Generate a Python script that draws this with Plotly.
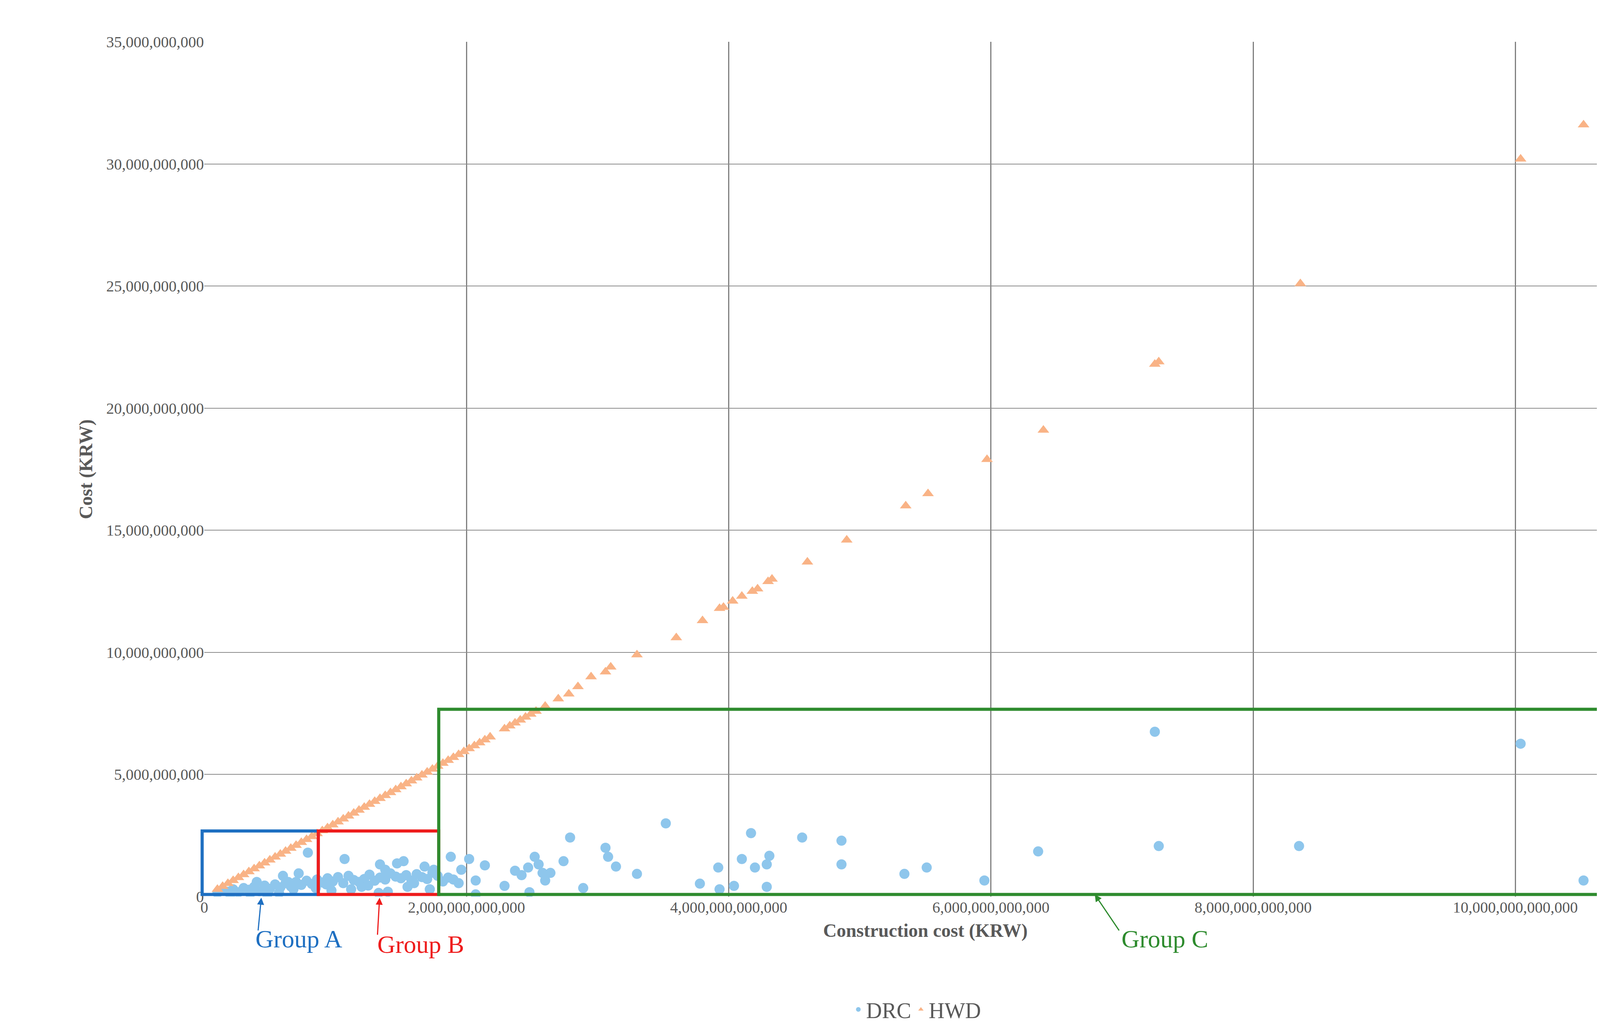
import plotly.graph_objects as go

# values in trillions (x) and billions (y) KRW
hwd_x = [0.10,0.14,0.18,0.22,0.26,0.30,0.34,0.38,0.42,0.46,0.50,0.54,0.58,0.62,0.66,0.70,0.74,0.78,0.82,0.86,
         0.90,0.94,0.98,1.02,1.06,1.10,1.14,1.18,1.22,1.26,1.30,1.34,1.38,1.42,1.46,1.50,1.54,1.58,1.62,1.66,
         1.70,1.74,1.78,1.82,1.86,1.90,1.94,1.98,2.02,2.06,2.10,2.14,2.18,2.29,2.33,2.37,2.41,2.45,2.49,2.53,
         2.6,2.7,2.78,2.85,2.95,3.06,3.1,3.3,3.6,3.8,3.93,3.96,4.03,4.1,4.18,4.22,4.3,4.33,4.6,4.9,5.35,5.52,
         5.97,6.4,7.25,7.28,8.36,10.04,10.52]
hwd_y = [0.30,0.42,0.54,0.66,0.78,0.90,1.02,1.14,1.26,1.38,1.50,1.62,1.74,1.86,1.98,2.10,2.22,2.34,2.46,2.58,
         2.70,2.82,2.94,3.06,3.18,3.30,3.42,3.54,3.66,3.78,3.90,4.02,4.14,4.26,4.38,4.50,4.62,4.74,4.86,4.98,
         5.10,5.22,5.34,5.46,5.58,5.70,5.82,5.94,6.06,6.18,6.30,6.42,6.54,6.87,6.99,7.11,7.23,7.35,7.47,7.59,
         7.8,8.1,8.3,8.6,9.0,9.2,9.4,9.9,10.6,11.3,11.8,11.85,12.1,12.3,12.5,12.6,12.9,13.0,13.7,14.6,16.0,16.5,
         17.9,19.1,21.8,21.9,25.1,30.2,31.6]

drc_x = [7.25,10.04,3.52,4.17,4.56,4.86,2.79,3.06,3.08,3.14,3.30,2.89,3.78,3.92,3.93,4.04,4.10,4.20,4.29,4.31,
         4.29,4.86,5.34,5.51,5.95,6.36,7.28,8.35,10.52,
         1.88,2.02,1.96,2.14,2.07,2.07,2.29,2.37,2.42,2.47,2.52,2.55,2.58,2.60,2.64,2.48,2.74,
         1.07,0.79,1.34,1.47,1.52,1.38,1.68,1.75,
         0.10,0.14,0.18,0.22,0.26,0.30,0.34,0.38,0.42,0.46,0.50,0.54,0.58,0.62,0.66,0.70,0.74,0.78,0.82,0.86,
         0.90,0.94,0.98,1.02,1.06,1.10,1.14,1.18,1.22,1.26,1.30,1.34,1.38,1.42,1.46,1.50,1.54,1.58,1.62,1.66,
         1.70,1.74,1.78,1.82,1.86,1.90,1.94,0.20,0.35,0.48,0.57,0.64,0.72,0.85,0.97,1.12,1.25,1.40,1.55,1.72,
         0.40,0.60,0.68,0.93,1.20,1.33,1.60]
drc_y = [6.75,6.26,3.0,2.6,2.42,2.29,2.42,2.0,1.63,1.23,0.93,0.35,0.53,1.19,0.30,0.44,1.54,1.19,1.32,1.67,
         0.40,1.32,0.93,1.19,0.66,1.85,2.07,2.07,0.66,
         1.63,1.54,1.10,1.28,0.66,0.09,0.44,1.06,0.88,1.19,1.63,1.32,0.97,0.66,0.97,0.18,1.45,
         1.54,1.80,1.32,1.36,1.45,1.10,1.23,1.10,
         0.15,0.25,0.20,0.30,0.18,0.35,0.28,0.40,0.22,0.45,0.32,0.50,0.38,0.55,0.42,0.60,0.48,0.65,0.52,0.70,
         0.58,0.75,0.62,0.80,0.55,0.85,0.68,0.60,0.72,0.90,0.65,0.78,0.70,0.95,0.82,0.75,0.88,0.66,0.92,0.80,
         0.72,0.98,0.85,0.62,0.78,0.70,0.55,0.10,0.12,0.08,0.15,0.60,0.95,0.35,0.25,0.30,0.45,0.20,0.40,0.30,
         0.60,0.85,0.30,0.50,0.40,0.15,0.55]

x_ticks = [0, 2e12, 4e12, 6e12, 8e12, 10e12]
x_ticktext = ["0", "2,000,000,000,000", "4,000,000,000,000", "6,000,000,000,000", "8,000,000,000,000", "10,000,000,000,000"]

font = "Liberation Serif"
S = 2.753
fig = go.Figure()
fig.add_trace(go.Scatter(x=[v*1e12 for v in drc_x], y=[v*1e9 for v in drc_y], mode="markers", name="DRC",
                         marker=dict(symbol="circle", size=26, color="#8ec6ec")))
fig.add_trace(go.Scatter(x=[v*1e12 for v in hwd_x], y=[v*1e9 for v in hwd_y], mode="markers", name="HWD",
                         marker=dict(symbol="triangle-up", size=26, color="#f9b386")))

def px2p(px, py):
    return (px-187)/1341, (830-py)/794

shapes = []
for (x0, y0, x1, y1, c) in [(185, 828, 293, 769, "#1e6fc1"), (293, 828, 405, 769, "#ee1c1c"), (405, 828, 1552, 656, "#2e8b2e")]:
    a, b = px2p(x0, y0); cc, d = px2p(x1, y1)
    shapes.append(dict(type="rect", xref="paper", yref="paper", x0=a, y0=b, x1=cc, y1=d, line=dict(color=c, width=8)))
fig.update_layout(shapes=shapes)

anns = []
for (txt, tx, ty, ax, ay, hx, hy, c) in [("Group A", 234, 883, 237, 862, 240, 831, "#1e6fc1"),
                                       ("Group B", 347, 888, 348, 866, 350, 831, "#ee1c1c"),
                                       ("Group C", 1080, 883, 1038, 862, 1015, 828, "#2e8b2e")]:
    x, y = px2p(tx, ty)
    anns.append(dict(text=txt, xref="paper", yref="paper", x=x, y=y, showarrow=False,
                     font=dict(family=font, size=64, color=c)))
    h, k = px2p(hx, hy)
    anns.append(dict(xref="paper", yref="paper", x=h, y=k, ax=(ax-hx)*S, ay=(ay-hy)*S,
                     text="", showarrow=True, arrowhead=2, arrowwidth=3, arrowsize=1.2, arrowcolor=c))
fig.update_layout(annotations=anns)

fig.update_layout(
    width=4317, height=2639, plot_bgcolor="white", paper_bgcolor="white",
    margin=dict(l=515, r=110, t=99, b=352),
    font=dict(family=font, size=40, color="#595959"),
    xaxis=dict(range=[0, 11e12], tickvals=x_ticks, ticktext=x_ticktext, showgrid=True, gridcolor="#7f7f7f",
               gridwidth=3, zeroline=False, showline=False, ticks="",
               title=dict(text="<b>Construction cost (KRW)</b>", font=dict(size=48, color="#595959"), standoff=20)),
    yaxis=dict(range=[0, 35e9], dtick=5e9, tickformat=",", showgrid=True, gridcolor="#8c8c8c", gridwidth=2,
               zeroline=False, showline=False, ticks="",
               title=dict(text="<b>Cost (KRW)</b>", font=dict(size=48, color="#595959"), standoff=20)),
    legend=dict(orientation="h", x=0.494, xanchor="center", y=-0.132, yanchor="middle",
                font=dict(size=56, color="#595959"), itemsizing="constant"),
)
fig.write_html("out.html")
